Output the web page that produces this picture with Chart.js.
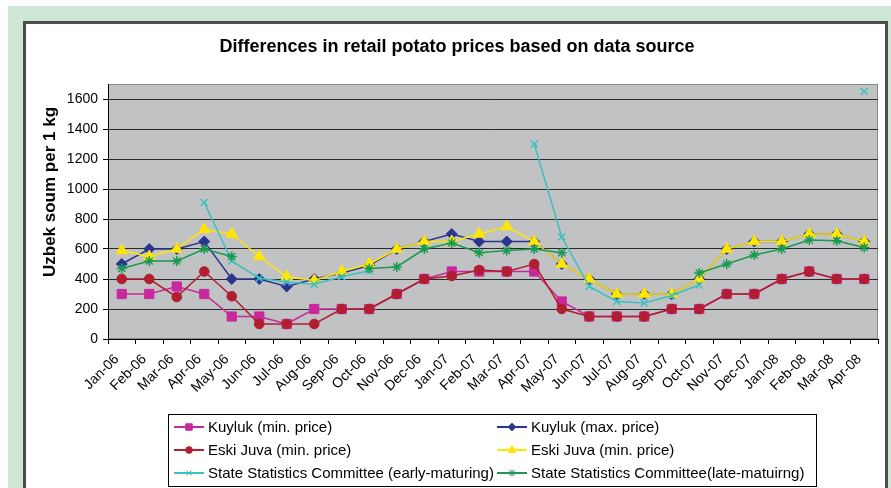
<!DOCTYPE html>
<html>
<head>
<meta charset="utf-8">
<script src="https://cdn.jsdelivr.net/npm/chart.js@4.4.1/dist/chart.umd.min.js"></script>
<style>
  html, body { margin: 0; padding: 0; background: #fff; }
  #fundo { position: absolute; left: 8px; top: 6px; width: 883px; height: 482px; background: #cde6d5; }
  #painel { position: absolute; left: 23px; top: 21px; width: 859px; height: 467px; background: #fff;
            border: 3px solid #4d4d4d; border-bottom: none; }
  #caixa { position: absolute; left: 0; top: 0; width: 891px; height: 488px; }
</style>
</head>
<body>
<div id="fundo"></div>
<div id="painel"></div>
<div id="caixa"><canvas id="grafico"></canvas></div>
<script>
// months shown on the x axis
const meses = ['Jan-06', 'Feb-06', 'Mar-06', 'Apr-06', 'May-06', 'Jun-06', 'Jul-06', 'Aug-06', 'Sep-06', 'Oct-06',
  'Nov-06', 'Dec-06', 'Jan-07', 'Feb-07', 'Mar-07', 'Apr-07', 'May-07', 'Jun-07', 'Jul-07', 'Aug-07', 'Sep-07',
  'Oct-07', 'Nov-07', 'Dec-07', 'Jan-08', 'Feb-08', 'Mar-08', 'Apr-08'];

// prices, Uzbek soum per 1 kg (null = no observation)
const kuylukMin = [300, 300, 350, 300, 150, 150, 100, 200, 200, 200, 300, 400, 450, 450, 450, 450, 250, 150, 150, 150, 200, 200, 300, 300, 400, 450, 400, 400];
const kuylukMax = [500, 600, 600, 650, 400, 400, 350, 400, 440, 490, 600, 650, 700, 650, 650, 650, 500, 400, 300, 300, 300, 400, 600, 650, 650, 700, 700, 650];
const eskiJuvaMin = [400, 400, 280, 450, 285, 100, 100, 100, 200, 200, 300, 400, 420, 460, 450, 500, 200, 150, 150, 150, 200, 200, 300, 300, 400, 450, 400, 400];
const eskiJuvaMin2 = [590, 550, 600, 730, 700, 550, 415, 390, 450, 500, 600, 650, 650, 700, 750, 650, 500, 400, 300, 300, 300, 400, 600, 650, 650, 700, 700, 650];
const sscEarly = [null, null, null, 910, 520, 405, 380, 365, 415, 455, null, null, null, null, null, 1300, 680, 350, 250, 240, 290, 360, null, null, null, null, null, 1650];
const sscLate = [470, 520, 520, 600, 550, null, null, null, null, 470, 480, 600, 640, 575, 590, 600, 575, null, null, null, null, 440, 500, 560, 600, 660, 655, 610];

const yTicks = [0, 200, 400, 600, 800, 1000, 1200, 1400, 1600];

const fonte = "'Liberation Sans', Arial, sans-serif";

function serie(label, data, cor, estilo, raio, ordem) {
  return {
    label: label,
    data: data,
    borderColor: cor,
    backgroundColor: cor,
    borderWidth: 1.5,
    pointStyle: estilo,
    pointRadius: raio,
    pointHoverRadius: raio,
    pointBorderWidth: estilo === 'crossRot' || estilo === 'star' ? 1.5 : 1,
    tension: 0,
    spanGaps: false,
    order: ordem
  };
}

// plot background, title, axis title and the boxed legend
const extras = {
  id: 'extras',
  beforeDraw(chart) {
    const { ctx, chartArea: a } = chart;
    ctx.save();
    ctx.fillStyle = '#c1c2c4';
    ctx.fillRect(a.left, a.top, a.right - a.left, a.bottom - a.top);
    ctx.strokeStyle = '#8c8c8c';
    ctx.lineWidth = 1;
    ctx.strokeRect(a.left + 0.5, a.top + 0.5, a.right - a.left - 1, a.bottom - a.top - 1);
    ctx.restore();
  },
  afterDraw(chart) {
    const ctx = chart.ctx;
    ctx.save();
    ctx.fillStyle = '#000';
    ctx.textAlign = 'center';
    ctx.textBaseline = 'middle';
    ctx.font = 'bold 18px ' + fonte;
    ctx.fillText('Differences in retail potato prices based on data source', 457, 47);

    ctx.translate(50, 192);
    ctx.rotate(-Math.PI / 2);
    ctx.font = 'bold 17px ' + fonte;
    ctx.fillText('Uzbek soum per 1 kg', 0, 0);
    ctx.setTransform(1, 0, 0, 1, 0, 0);

    // legend box
    ctx.strokeStyle = '#000';
    ctx.lineWidth = 1;
    ctx.strokeRect(168.5, 414.5, 648, 72);
    ctx.font = '15px ' + fonte;
    ctx.textAlign = 'left';
    chart.data.datasets.forEach((ds, i) => {
      const x0 = i % 2 === 0 ? 174 : 497;
      const y = 427 + Math.floor(i / 2) * 23;
      ctx.strokeStyle = ds.borderColor;
      ctx.fillStyle = ds.backgroundColor;
      ctx.lineWidth = 2;
      ctx.beginPath();
      ctx.moveTo(x0, y);
      ctx.lineTo(x0 + 30, y);
      ctx.stroke();
      ctx.lineWidth = 1;
      Chart.helpers.drawPoint(ctx, { pointStyle: ds.pointStyle, radius: ds.pointRadius * 0.7, rotation: 0, borderWidth: 1 }, x0 + 15, y);
      ctx.fillStyle = '#000';
      ctx.fillText(ds.label, x0 + 34, y + 1);
    });
    ctx.restore();
  }
};

new Chart(document.getElementById('grafico'), {
  type: 'line',
  data: {
    labels: meses,
    datasets: [
      serie('Kuyluk (min. price)', kuylukMin, '#c8289a', 'rect', 6.5, 6),
      serie('Kuyluk (max. price)', kuylukMax, '#2b3590', 'rectRot', 5.5, 5),
      serie('Eski Juva (min. price)', eskiJuvaMin, '#b01e30', 'circle', 4.8, 4),
      serie('Eski Juva (min. price)', eskiJuvaMin2, '#ffe600', 'triangle', 6.5, 3),
      serie('State Statistics Committee (early-maturing)', sscEarly, '#3cc0c0', 'crossRot', 5, 2),
      serie('State Statistics Committee(late-matuirng)', sscLate, '#1a9a50', 'star', 5, 1)
    ]
  },
  options: {
    responsive: true,
    maintainAspectRatio: false,
    animation: false,
    layout: { padding: { left: 0, right: 13, top: 84, bottom: 0 } },
    plugins: {
      legend: { display: false },
      title: { display: false },
      tooltip: { enabled: false }
    },
    scales: {
      x: {
        offset: true,
        grid: { offset: true, drawOnChartArea: false, drawTicks: true, tickLength: 5, color: '#000' },
        border: { color: '#000', width: 1 },
        ticks: {
          autoSkip: false, minRotation: 45, maxRotation: 45, color: '#000', padding: 7, labelOffset: -5,
          font: { family: fonte, size: 14 }
        },
        afterFit(scale) { scale.height = 149; }
      },
      y: {
        min: 0,
        max: 1700,
        grid: { color: '#2a2a2a', lineWidth: 1, tickLength: 5, tickColor: '#000' },
        border: { color: '#000', width: 1 },
        afterBuildTicks(scale) { scale.ticks = yTicks.map(v => ({ value: v })); },
        ticks: {
          color: '#000', padding: 5, font: { family: fonte, size: 14 },
          callback: v => String(v)
        },
        afterFit(scale) { scale.width = 108; }
      }
    }
  },
  plugins: [extras]
});
</script>
</body>
</html>
